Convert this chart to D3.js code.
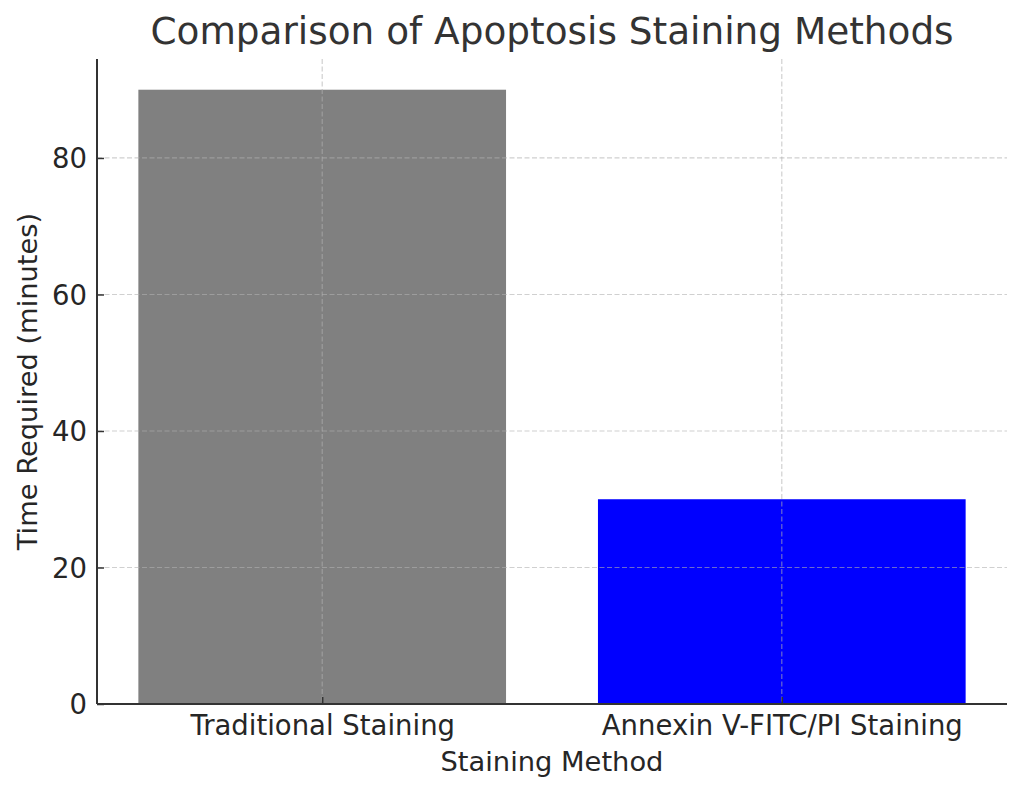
<!DOCTYPE html>
<html>
<head>
<meta charset="utf-8">
<script src="https://d3js.org/d3.v7.min.js"></script>
<style>
  body { margin: 0; background: #fff; }
  text { font-family: "DejaVu Sans", sans-serif; }
</style>
</head>
<body>
<div id="chart"></div>
<script>
// data
const methods = ["Traditional Staining", "Annexin V-FITC/PI Staining"];
const minutes = [90, 30];
const barColors = ["gray", "blue"];
const yTicks = [0, 20, 40, 60, 80];

const width = 1024, height = 794;
const margin = {top: 59, right: 17, bottom: 90, left: 97};
const plotW = width - margin.left - margin.right;
const plotH = height - margin.top - margin.bottom;

const svg = d3.select("#chart").append("svg")
    .attr("width", width)
    .attr("height", height);

const g = svg.append("g")
    .attr("transform", `translate(${margin.left},${margin.top})`);

// matplotlib-like categorical axis: bars width 0.8, 5% margins
const x = d3.scaleLinear()
    .domain([-0.49, methods.length - 1 + 0.49])
    .range([0, plotW]);
const barW = x(0.8) - x(0);

const y = d3.scaleLinear()
    .domain([0, 94.5])
    .range([plotH, 0]);

//bars
g.selectAll("rect.bar")
    .data(methods)
    .enter().append("rect")
    .attr("class", "bar")
    .attr("x", (d, i) => x(i) - barW / 2)
    .attr("width", barW)
    .attr("y", (d, i) => y(minutes[i]))
    .attr("height", (d, i) => plotH - y(minutes[i]))
    .attr("fill", (d, i) => barColors[i]);

//grid (drawn over the bars)
const grid = g.append("g")
    .attr("stroke", "#b0b0b0")
    .attr("stroke-opacity", 0.6)
    .attr("stroke-width", 1.2)
    .attr("stroke-dasharray", "5,2.5");
grid.selectAll("line.h")
    .data(yTicks.filter(t => t > 0))
    .enter().append("line")
    .attr("x1", 0).attr("x2", plotW)
    .attr("y1", d => y(d)).attr("y2", d => y(d));
grid.selectAll("line.v")
    .data(methods)
    .enter().append("line")
    .attr("x1", (d, i) => x(i)).attr("x2", (d, i) => x(i))
    .attr("y1", 0).attr("y2", plotH);

//axes
const yAxis = d3.axisLeft(y)
    .tickValues(yTicks)
    .tickSize(-7)
    .tickPadding(10);
const yG = g.append("g").call(yAxis);

const xAxis = d3.axisBottom(x)
    .tickValues(methods.map((d, i) => i))
    .tickFormat(i => methods[i])
    .tickSize(-7)
    .tickPadding(11.5);
const xG = g.append("g")
    .attr("transform", `translate(0,${plotH})`)
    .call(xAxis);

[yG, xG].forEach(a => {
    a.select(".domain").remove();
    a.selectAll(".tick line").attr("stroke", "#333").attr("stroke-width", 1.5);
    a.selectAll(".tick text")
        .attr("fill", "#262626")
        .style("font-size", "27.5px");
});
yG.selectAll(".tick text").attr("dy", "0.36em");

//spines (left and bottom only)
g.append("line")
    .attr("x1", 0).attr("x2", 0)
    .attr("y1", 0).attr("y2", plotH)
    .attr("stroke", "#333").attr("stroke-width", 2);
g.append("line")
    .attr("x1", 0).attr("x2", plotW)
    .attr("y1", plotH).attr("y2", plotH)
    .attr("stroke", "#333").attr("stroke-width", 2);

//title and labels
svg.append("text")
    .attr("x", margin.left + plotW / 2)
    .attr("y", 44)
    .attr("text-anchor", "middle")
    .attr("fill", "#333")
    .style("font-size", "37.4px")
    .text("Comparison of Apoptosis Staining Methods");

svg.append("text")
    .attr("x", margin.left + plotW / 2)
    .attr("y", 771)
    .attr("text-anchor", "middle")
    .attr("fill", "#262626")
    .style("font-size", "27.3px")
    .text("Staining Method");

svg.append("text")
    .attr("transform", `translate(37,${margin.top + plotH / 2}) rotate(-90)`)
    .attr("text-anchor", "middle")
    .attr("fill", "#262626")
    .style("font-size", "27.3px")
    .text("Time Required (minutes)");
</script>
</body>
</html>
